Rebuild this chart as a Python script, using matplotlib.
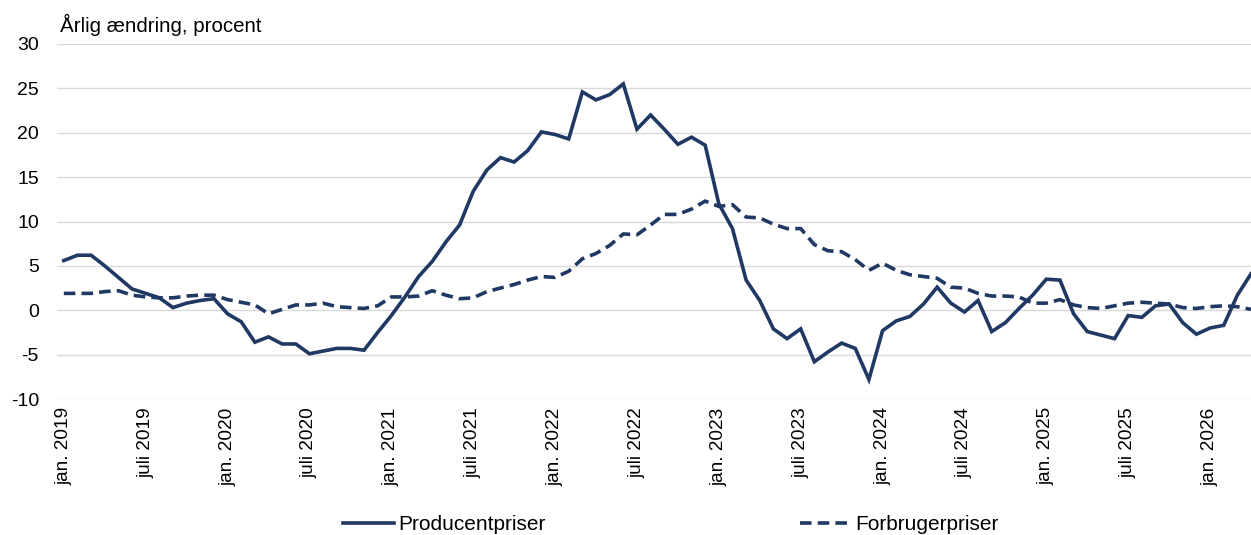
import numpy as np
import matplotlib
matplotlib.use('Agg')
import matplotlib.pyplot as plt

plt.rcParams['font.family'] = ['Liberation Sans', 'DejaVu Sans']
plt.rcParams['axes.unicode_minus'] = False

# monthly data, jan. 2019 - apr. 2026
producent = [5.6, 6.2, 6.2, 5.0, 3.7, 2.4, 1.9, 1.4, 0.3, 0.8, 1.1, 1.3,
             -0.4, -1.3, -3.6, -3.0, -3.8, -3.8, -4.9, -4.6, -4.3, -4.3, -4.5, -2.5,
             -0.6, 1.5, 3.8, 5.5, 7.7, 9.6, 13.4, 15.8, 17.2, 16.7, 18.0, 20.1,
             19.8, 19.3, 24.6, 23.7, 24.3, 25.5, 20.4, 22.0, 20.4, 18.7, 19.5, 18.6,
             12.0, 9.2, 3.4, 1.1, -2.1, -3.2, -2.1, -5.8, -4.7, -3.7, -4.3, -7.8,
             -2.3, -1.2, -0.7, 0.7, 2.6, 0.8, -0.2, 1.1, -2.4, -1.4, 0.2, 1.7,
             3.5, 3.4, -0.4, -2.4, -2.8, -3.2, -0.6, -0.8, 0.5, 0.7, -1.4, -2.7,
             -2.0, -1.7, 1.7, 4.1]
forbruger = [1.9, 1.9, 1.9, 2.1, 2.2, 1.7, 1.5, 1.4, 1.4, 1.6, 1.7, 1.7,
             1.2, 0.9, 0.6, -0.4, 0.1, 0.6, 0.6, 0.8, 0.4, 0.3, 0.2, 0.5,
             1.5, 1.5, 1.6, 2.2, 1.7, 1.3, 1.4, 2.1, 2.5, 2.9, 3.4, 3.8,
             3.7, 4.4, 5.8, 6.4, 7.3, 8.6, 8.5, 9.6, 10.8, 10.8, 11.4, 12.3,
             11.7, 11.9, 10.5, 10.4, 9.7, 9.2, 9.2, 7.4, 6.7, 6.6, 5.7, 4.5,
             5.3, 4.5, 4.0, 3.8, 3.6, 2.6, 2.5, 1.9, 1.6, 1.6, 1.5, 0.8,
             0.8, 1.2, 0.6, 0.3, 0.2, 0.5, 0.8, 0.9, 0.8, 0.7, 0.3, 0.2,
             0.4, 0.5, 0.4, 0.1]

years = list(range(2019, 2027))
tick_labels = []
for y in years:
    tick_labels += ['jan. %d' % y, 'juli %d' % y]
tick_labels = tick_labels[:15]

color = '#203864'
x = np.arange(len(producent))

fig = plt.figure(figsize=(12.51, 5.35), dpi=100)
ax = fig.add_axes([57 / 1251, 1 - 399 / 535, 1 - 57 / 1251, (399 - 44) / 535])

ax.plot(x, producent, color=color, lw=2.6, label='Producentpriser', solid_joinstyle='miter')
ax.plot(x, forbruger, color=color, lw=2.6, linestyle=(0, (3.2, 1.7)), label='Forbrugerpriser')

ax.set_ylim(-10, 30)
ax.set_yticks(np.arange(-10, 31, 5))
ax.set_xlim(-0.5, 87.0)
ax.set_xticks(np.arange(0, len(tick_labels) * 6, 6))
ax.set_xticklabels(tick_labels, rotation=90)
ax.grid(axis='y', color='#d9d9d9', lw=1)
ax.set_axisbelow(True)
for s in ax.spines.values():
    s.set_visible(False)
ax.tick_params(axis='both', length=0, colors='#000000')
ax.tick_params(axis='y', pad=13, labelsize=14)
ax.tick_params(axis='x', pad=6, labelsize=13.7)

fig.text(60 / 1251, 1 - 25 / 535, 'Årlig ændring, procent', fontsize=14.8, va='center', ha='left')

fig.legend(loc='center', bbox_to_anchor=(0.536, 0.019), ncol=2, frameon=False,
           fontsize=15, handlelength=2.45, columnspacing=12.2, handletextpad=0.2)

fig.savefig('out.png', dpi=100)
